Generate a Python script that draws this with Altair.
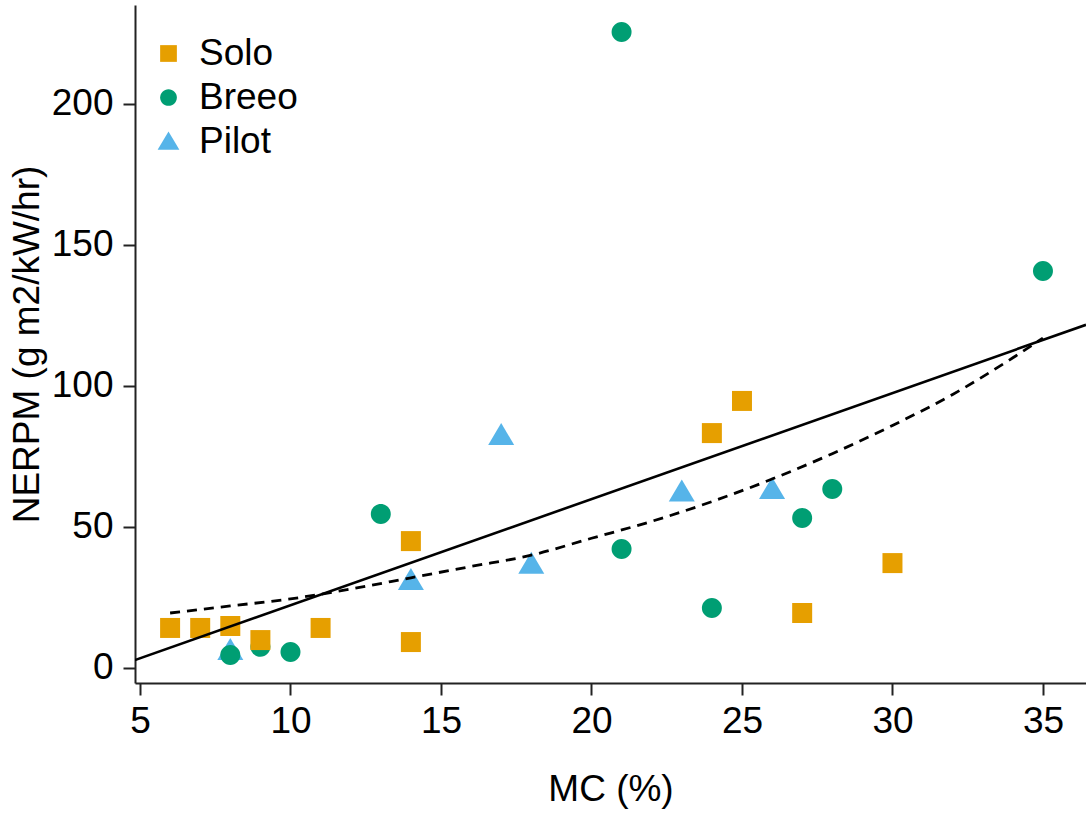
import altair as alt
import pandas as pd

# Scatter data (MC %, NERPM)
solo_x = [6, 7, 8, 9, 11, 14, 14, 24, 25, 27, 30]
solo_y = [14.2, 14.2, 14.9, 9.9, 14.2, 45.0, 9.2, 83.3, 94.7, 19.5, 37.2]
breeo_x = [8, 9, 10, 13, 21, 21, 24, 27, 28, 35]
breeo_y = [4.6, 7.5, 5.7, 54.6, 225.5, 42.2, 21.3, 53.2, 63.5, 140.8]
pilot_x = [8, 14, 17, 18, 23, 26]
pilot_y = [6.4, 31.2, 82.6, 37.0, 62.6, 63.5]

groups = ["Solo", "Breeo", "Pilot"]
colors = ["#E69F00", "#009E73", "#56B4E9"]
shapes = [
    "M-1,-1H1V1H-1Z",
    "M1,0A1,1,0,1,1,-1,0A1,1,0,1,1,1,0Z",
    "M0,-1.2L1.3,1L-1.3,1Z",
]

# Fitted lines
lin_x = [4.83, 36.43]
lin_y = [2.8, 121.7]
curve_x = [6, 8, 10, 12, 14, 16, 18, 20, 22, 24, 26, 28, 30, 32, 34, 35]
curve_y = [19.5, 22, 24.5, 28, 32, 36, 40, 46, 52, 59, 67, 76, 86, 97, 110, 117]

x_ticks = [5, 10, 15, 20, 25, 30, 35]
y_ticks = [0, 50, 100, 150, 200]

rows = []
for g, xs, ys in [("Pilot", pilot_x, pilot_y), ("Breeo", breeo_x, breeo_y), ("Solo", solo_x, solo_y)]:
    for a, b in zip(xs, ys):
        rows.append({"MC": a, "NERPM": b, "Stove": g})
pts = pd.DataFrame(rows)
lin = pd.DataFrame({"MC": lin_x, "NERPM": lin_y})
cur = pd.DataFrame({"MC": curve_x, "NERPM": curve_y})

FONT = "Liberation Sans"
FS = 37
xscale = alt.Scale(domain=[4.834, 36.43], nice=False, zero=False)
yscale = alt.Scale(domain=[-5.32, 235.1], nice=False, zero=False)

xaxis = alt.Axis(values=x_ticks, title="MC (%)", grid=False, tickSize=12, labelPadding=8,
                 titlePadding=32, labelFlush=False)
yaxis = alt.Axis(values=y_ticks, title="NERPM (g m2/kW/hr)", grid=False, tickSize=12,
                 labelPadding=10, titlePadding=5)

points = alt.Chart(pts).mark_point(filled=True, opacity=1, size=400, strokeWidth=0).encode(
    x=alt.X("MC:Q", scale=xscale, axis=xaxis),
    y=alt.Y("NERPM:Q", scale=yscale, axis=yaxis),
    color=alt.Color("Stove:N", scale=alt.Scale(domain=groups, range=colors),
                    legend=alt.Legend(title=None, orient="none", legendX=15, legendY=30,
                                      symbolSize=280, symbolType="square",
                                      labelFontSize=FS, labelFont=FONT, labelColor="#000",
                                      labelOffset=12, rowPadding=6, padding=0,
                                      symbolStrokeWidth=0, symbolOpacity=1)),
    shape=alt.Shape("Stove:N", scale=alt.Scale(domain=groups, range=shapes)),
)

solid = alt.Chart(lin).mark_line(color="#000", strokeWidth=2.6, clip=True).encode(
    x=alt.X("MC:Q", scale=xscale), y=alt.Y("NERPM:Q", scale=yscale))
dashed = alt.Chart(cur).mark_line(color="#000", strokeWidth=2.8, strokeDash=[10, 7],
                                  interpolate="monotone", clip=True).encode(
    x=alt.X("MC:Q", scale=xscale), y=alt.Y("NERPM:Q", scale=yscale))

chart = alt.layer(points, solid, dashed).properties(
    width=951, height=678,
    autosize=alt.AutoSizeParams(type="none"),
    padding={"left": 135, "top": 5, "right": 0, "bottom": 138},
    background="white",
).configure_view(stroke=None).configure_axis(
    labelFont=FONT, titleFont=FONT, labelFontSize=FS, titleFontSize=FS,
    labelColor="#000", titleColor="#000", titleFontWeight="normal",
    domainColor="#222", tickColor="#222", domainWidth=2, tickWidth=2,
)

chart.save("out.html", embed_options={"renderer": "svg", "actions": False})
